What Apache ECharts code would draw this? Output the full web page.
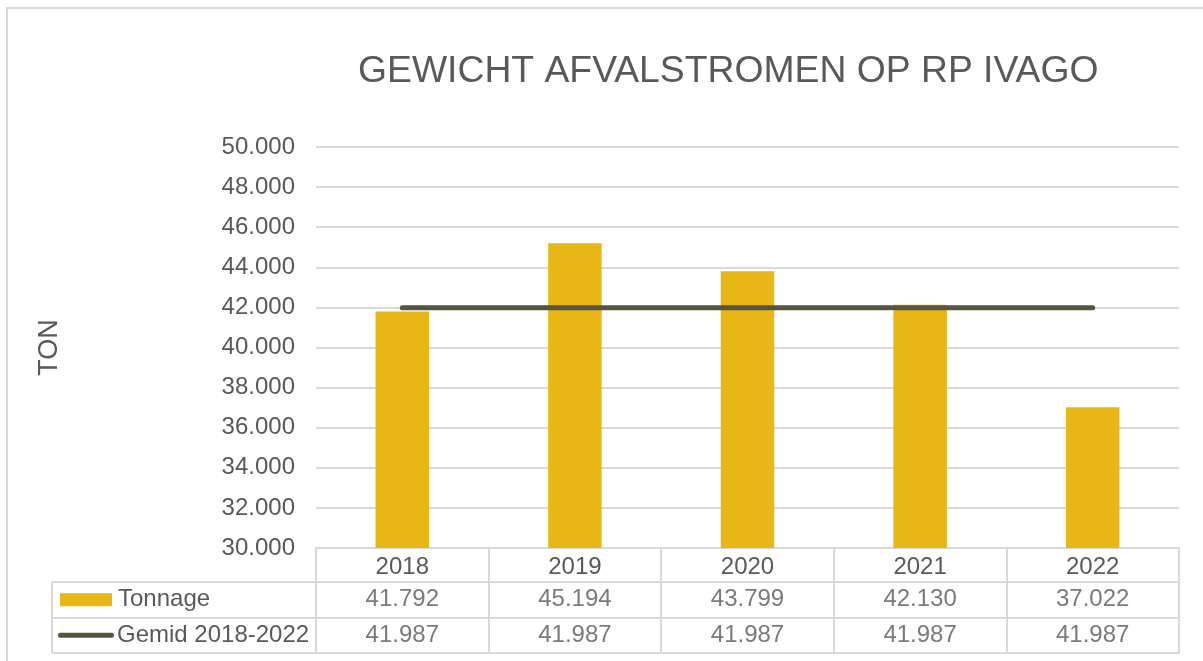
<!DOCTYPE html>
<html lang="nl">
<head>
    <meta charset="UTF-8">
    <title>Gewicht afvalstromen op RP Ivago</title>
    <script src="https://cdn.jsdelivr.net/npm/echarts@6/dist/echarts.min.js"></script>
    <style>
        *{
            padding: 0;
            margin: 0;
        }
        html, body{
            width: 100%;
            height: 100%;
            background: #fff;
        }
        .echarts{
            width: 1203px;
            height: 661px;
        }
    </style>
</head>
<body>
<div class="echarts"></div>
<script>
    // data
    const years = ['2018', '2019', '2020', '2021', '2022'];
    const tonnage = [41792, 45194, 43799, 42130, 37022];
    const gemiddelde = [41987, 41987, 41987, 41987, 41987];
    const rows = ['Tonnage', 'Gemid 2018-2022'];
    const yTicks = {min: 30000, max: 50000, step: 2000};

    const gold = '#E9B715';
    const lineCol = '#57553F';
    const grey = '#D9D9D9';
    const txt = '#595959';
    const font = '"Liberation Sans", Arial, sans-serif';

    // ton -> "41.792"
    function fmt(v) {
        return (v / 1000).toFixed(3);
    }

    window.onload = function () {
        let myCharts = echarts.init(document.querySelector('.echarts'));

        // table cells: [year, row, value]
        let cells = [];
        years.forEach((y, i) => {
            cells.push([y, rows[0], tonnage[i]]);
            cells.push([y, rows[1], gemiddelde[i]]);
        });

        let option = {
            animation: false,
            textStyle: {fontFamily: font},
            title: {
                text: 'GEWICHT AFVALSTROMEN OP RP IVAGO',
                left: 353,
                top: 48,
                textStyle: {
                    color: txt,
                    fontSize: 37.3,
                    fontWeight: 'normal',
                    fontFamily: font
                }
            },
            graphic: [
                {
                    type: 'rect',
                    shape: {x: 7, y: 8, width: 1250, height: 720},
                    style: {fill: 'none', stroke: grey, lineWidth: 2},
                    silent: true
                },
                {
                    type: 'line',
                    shape: {x1: 52, y1: 582, x2: 52, y2: 653},
                    style: {stroke: grey, lineWidth: 2},
                    silent: true
                }
            ],
            grid: [
                {left: 316, right: 24, top: 147, bottom: 113},
                {left: 316, right: 24, top: 582, height: 71, show: true, borderColor: grey, borderWidth: 2}
            ],
            xAxis: [
                {
                    type: 'category',
                    gridIndex: 0,
                    data: years,
                    axisLine: {lineStyle: {color: grey, width: 2}},
                    axisTick: {show: true, length: 34, lineStyle: {color: grey, width: 2}},
                    axisLabel: {color: txt, fontSize: 24, margin: 7, interval: 0, fontFamily: font}
                },
                {
                    type: 'category',
                    gridIndex: 1,
                    data: years,
                    axisLine: {show: false},
                    axisTick: {show: false},
                    axisLabel: {show: false},
                    splitLine: {show: true, lineStyle: {color: grey, width: 2}}
                }
            ],
            yAxis: [
                {
                    type: 'value',
                    gridIndex: 0,
                    min: yTicks.min,
                    max: yTicks.max,
                    interval: yTicks.step,
                    name: 'TON',
                    nameLocation: 'middle',
                    nameRotate: 90,
                    nameGap: 253,
                    nameTextStyle: {color: txt, fontSize: 27, fontFamily: font},
                    axisLine: {show: false},
                    axisTick: {show: false},
                    axisLabel: {color: txt, fontSize: 24, margin: 21, formatter: fmt, fontFamily: font, padding: [2, 0, 0, 0]},
                    splitLine: {lineStyle: {color: grey, width: 2}}
                },
                {
                    type: 'category',
                    gridIndex: 1,
                    data: rows,
                    inverse: true,
                    axisLine: {show: false},
                    axisTick: {show: true, length: 264, lineStyle: {color: grey, width: 2}},
                    splitLine: {show: true, lineStyle: {color: grey, width: 2}},
                    axisLabel: {
                        align: 'left',
                        margin: 258,
                        formatter: function (v) {
                            return v === rows[0] ? '{sp|}{bar|}{t|' + v + '}' : '{ln|}{t2|' + v + '}';
                        },
                        rich: {
                            sp: {width: 2, height: 13},
                            bar: {width: 52, height: 13, backgroundColor: gold},
                            ln: {width: 56, height: 5, backgroundColor: lineCol, borderRadius: 3},
                            t: {color: txt, fontSize: 24, padding: [0, 0, 0, 6], fontFamily: font},
                            t2: {color: txt, fontSize: 24, padding: [0, 0, 0, 3], fontFamily: font}
                        }
                    }
                }
            ],
            series: [
                {
                    name: rows[0],
                    type: 'bar',
                    xAxisIndex: 0,
                    yAxisIndex: 0,
                    data: tonnage,
                    barWidth: '31%',
                    itemStyle: {color: gold}
                },
                {
                    name: rows[1],
                    type: 'line',
                    xAxisIndex: 0,
                    yAxisIndex: 0,
                    data: gemiddelde,
                    symbol: 'none',
                    lineStyle: {color: lineCol, width: 5, cap: 'round'}
                },
                {
                    name: 'tabel',
                    type: 'scatter',
                    xAxisIndex: 1,
                    yAxisIndex: 1,
                    data: cells,
                    symbolSize: 0,
                    label: {
                        show: true,
                        position: 'inside',
                        color: txt,
                        fontSize: 24,
                        fontFamily: font,
                        formatter: p => fmt(p.data[2])
                    }
                }
            ]
        };
        myCharts.setOption(option);
    };
</script>
</body>
</html>
